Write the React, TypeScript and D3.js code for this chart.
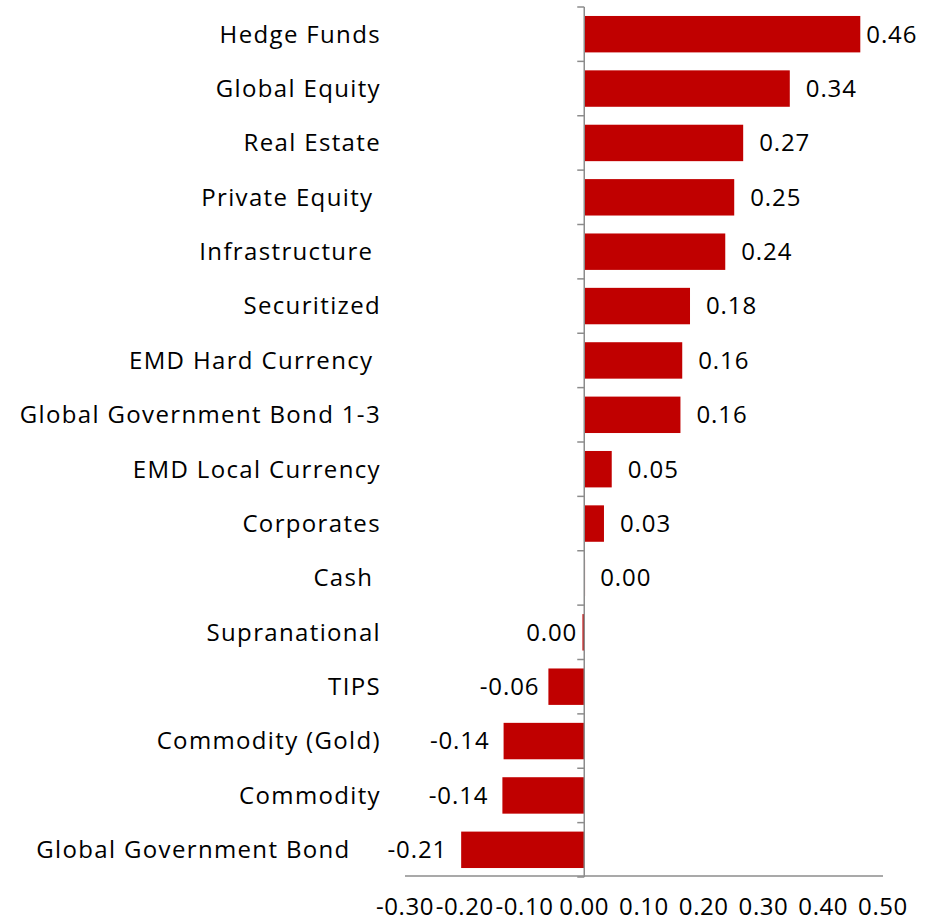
import React from "react";
import * as d3 from "d3";

const categories = [
  "Hedge Funds",
  "Global Equity",
  "Real Estate",
  "Private Equity ",
  "Infrastructure ",
  "Securitized",
  "EMD Hard Currency ",
  "Global Government Bond 1-3",
  "EMD Local Currency",
  "Corporates",
  "Cash ",
  "Supranational",
  "TIPS",
  "Commodity (Gold)",
  "Commodity",
  "Global Government Bond    ",
];

const values = [
  0.462, 0.344, 0.266, 0.251, 0.236, 0.177, 0.164, 0.161, 0.046, 0.033, 0.0,
  -0.003, -0.06, -0.135, -0.137, -0.206,
];

const xTicks = [-0.3, -0.2, -0.1, 0.0, 0.1, 0.2, 0.3, 0.4, 0.5];

const W = 935;
const H = 921;

export default function App() {
  const x = d3.scaleLinear().domain([-0.3, 0.5]).range([405, 883]);
  const y = d3
    .scaleBand<string>()
    .domain(categories)
    .range([7, 877])
    .paddingInner(0.33)
    .paddingOuter(0.165);
  const band = (y.range()[1] - y.range()[0]) / categories.length;
  const fmt = (v: number) => (Math.abs(v) < 0.005 ? "0.00" : v.toFixed(2));
  const font = "'Open Sans', sans-serif";
  const fs = 24;
  const ls = 0.9;
  const axisColor = "#8c8c8c";
  const x0 = x(0);

  return (
    <svg
      width={W}
      height={H}
      style={{ position: "absolute", left: 0, top: 0, display: "block" }}
      fontFamily={font}
    >
      <rect width={W} height={H} fill="#ffffff" />
      {categories.map((c, i) => {
        const v = values[i];
        const by = y(c)!;
        const bx = Math.min(x(v), x0);
        const bw = Math.abs(x(v) - x0);
        const cy = by + y.bandwidth() / 2;
        const pos = v >= 0 && !(i === 11);
        let lx = pos ? x(v) + 16 : Math.min(x(v), x0) - 14;
        if (i === 0) lx = x(v) + 6;
        if (i === 12) lx = x(v) - 9;
        if (i === 11) lx = x0 - 7;
        return (
          <g key={c}>
            <rect
              x={bx}
              y={by}
              width={Math.max(bw, 0.8)}
              height={y.bandwidth()}
              fill="#c00000"
            />
            <text
              x={381}
              y={cy}
              dy="0.35em"
              textAnchor="end"
              fontSize={fs}
              letterSpacing={1.35}
              fill="#000"
              style={{ whiteSpace: "pre" }}
            >
              {c}
            </text>
            <text
              x={lx}
              y={cy}
              dy="0.35em"
              textAnchor={pos ? "start" : "end"}
              fontSize={fs}
              letterSpacing={ls}
              fill="#000"
            >
              {fmt(v)}
            </text>
          </g>
        );
      })}
      {/* vertical axis */}
      <line x1={x0} x2={x0} y1={7} y2={877} stroke={axisColor} strokeWidth={1.5} />
      {d3.range(categories.length + 1).map((k) => (
        <line
          key={k}
          x1={x0 - 7}
          x2={x0}
          y1={7 + k * band}
          y2={7 + k * band}
          stroke={axisColor}
          strokeWidth={1.5}
        />
      ))}
      {/* horizontal axis */}
      <line x1={405} x2={883} y1={876} y2={876} stroke={axisColor} strokeWidth={1.5} />
      {xTicks.map((t) => (
        <text
          key={t}
          x={x(t)}
          y={906.5}
          dy="0.35em"
          textAnchor="middle"
          fontSize={fs}
          letterSpacing={0.6}
          fill="#000"
        >
          {t.toFixed(2)}
        </text>
      ))}
    </svg>
  );
}
